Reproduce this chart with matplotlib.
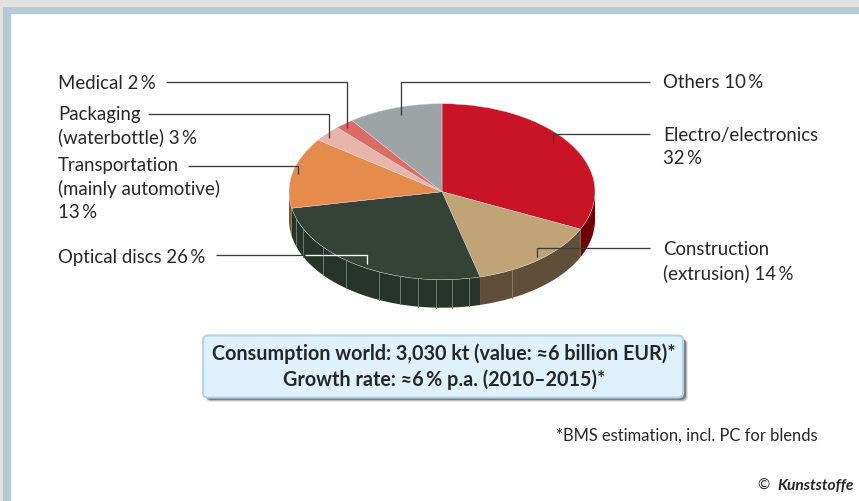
import numpy as np
import matplotlib
matplotlib.use("Agg")
import matplotlib.pyplot as plt
from matplotlib.patches import Rectangle, FancyBboxPatch, Polygon

plt.rcParams["font.family"] = ["Lato", "DejaVu Sans"]

# market shares, clockwise from 12 o'clock
segments = ["Electro/electronics", "Construction", "Optical discs",
            "Transportation", "Packaging", "Medical", "Others"]
shares = [32, 14, 26, 13, 3, 2, 10]
top_colors = ["#c81426", "#c0a377", "#354237", "#e58b4c", "#e8b5ab", "#dc6b66", "#9ea3a6"]
wall_colors = ["#6c0003", "#5f4f38", "#27342b", "#7a5a30", "#b09088", "#a05050", "#70747a"]

# thin seams on the rim of the disc, px from the centre
seam_px = [-146, -138.7, -118.7, -95.7, -62.7, -41.7, -23.7, -6.3, 10.3, 27.3, 69.7]
seam_colors = ["#6f7a70"] * 10 + ["#8a7c62"]

W, H = 859, 501
CX, CY, RX, RY, DEPTH = 442, 191.7, 153, 88, 28

fig = plt.figure(figsize=(W / 100, H / 100), dpi=100, facecolor="white")

# page frame + labels live in pixel coords
bg = fig.add_axes([0, 0, 1, 1], zorder=0)
bg.set_xlim(0, W)
bg.set_ylim(H, 0)
bg.axis("off")
bg.add_patch(Rectangle((0, 0), W, H, fc="#e1e1e1", ec="none"))
bg.add_patch(Rectangle((3, 7), W, H, fc="#b8cbd4", ec="none"))
bg.add_patch(Rectangle((11, 14), W, H, fc="#eef4f6", ec="none"))
bg.add_patch(Rectangle((12, 15), W, H, fc="white", ec="none"))

# unit circle axes, squashed so that the pie turns into an ellipse
ax = fig.add_axes([0, 0, 1, 1], zorder=1)
ax.pie(shares, colors=top_colors, startangle=90, counterclock=False, radius=1,
       wedgeprops={"linewidth": 0.3, "edgecolor": "#d8d8d8", "zorder": 5})
ax.set_aspect("auto")
ax.set_xlim((0 - CX) / RX, (W - CX) / RX)
ax.set_ylim((CY - H) / RY, CY / RY)
ax.axis("off")

# rim of the disc, only the front half shows
d = DEPTH / RY
edges = 90 - np.cumsum([0] + shares) * 3.6
for i in range(len(shares)):
    hi, lo = edges[i], edges[i + 1]
    # move into the -180..0 range of the front half
    a = max(lo, -180)
    b = min(hi, 0)
    if lo < -180:
        a2 = max(lo + 360, 180)
        b2 = min(hi + 360, 360)
        if b2 > a2:
            a, b = a2 - 360, b2 - 360
    if b <= a:
        continue
    t = np.radians(np.linspace(a, b, 60))
    xs = np.cos(t)
    ys = np.sin(t)
    pts = np.column_stack([np.r_[xs, xs[::-1]], np.r_[ys, ys[::-1] - d]])
    ax.add_patch(Polygon(pts, fc=wall_colors[i], ec="none", zorder=2))

for px, col in zip(seam_px, seam_colors):
    x = px / RX
    y = -np.sqrt(1 - x * x)
    ax.plot([x, x], [y, y - d], color=col, lw=0.7, zorder=3)

# overlay for leaders and text
fg = fig.add_axes([0, 0, 1, 1], zorder=2)
fg.set_xlim(0, W)
fg.set_ylim(H, 0)
fg.axis("off")
fg.patch.set_alpha(0)

LINE = "#3c3c3c"
leaders = [
    ([166, 347, 347], [82, 82, 128]),
    ([148, 329, 329], [114, 114, 138]),
    ([188, 298, 298], [166, 166, 174]),
    ([216, 305], [255, 255]),
    ([400.7, 400.7, 650], [115, 82, 82]),
    ([552.5, 552.5, 650], [143, 134, 134]),
    ([537, 537, 650], [257, 248, 248]),
]
for xs, ys in leaders:
    fg.plot(xs, ys, color=LINE, lw=0.95, solid_joinstyle="miter", solid_capstyle="butt")
fg.plot([305, 367, 367], [255, 255, 264], color="white", lw=0.95,
        solid_joinstyle="miter", solid_capstyle="butt")

TXT = "#262626"
labels = [
    (58, 83, "Medical 2\u2009%"),
    (58, 114, "Packaging"),
    (58, 137, "(waterbottle) 3\u2009%"),
    (58, 165, "Transportation"),
    (58, 189, "(mainly automotive)"),
    (58, 213, "13\u2009%"),
    (58, 257, "Optical discs 26\u2009%"),
    (663, 82, "Others 10\u2009%"),
    (663, 135, "Electro/electronics"),
    (663, 159, "32\u2009%"),
    (663, 249, "Construction"),
    (663, 273, "(extrusion) 14\u2009%"),
]
for x, y, s in labels:
    fg.text(x, y, s, fontsize=13.4, color=TXT, va="center", ha="left")

# info box with a soft shadow below and to the right
for off, alpha in [(2, 0.15), (1, 0.3), (0, 0.6)]:
    fg.add_patch(FancyBboxPatch((206, 339), 480 + off, 61 + off,
                                boxstyle="round,pad=0,rounding_size=5",
                                fc="#55585c", ec="none", alpha=alpha))
fg.add_patch(FancyBboxPatch((203, 335.5), 480, 62,
                            boxstyle="round,pad=0,rounding_size=5",
                            fc="#dff2fb", ec="#b2d3ec", lw=1.5))
fg.text(444, 354, "Consumption world: 3,030 kt (value: \u22486 billion EUR)*",
        fontsize=14.2, fontweight="bold", color=TXT, ha="center", va="center")
fg.text(444, 380, "Growth rate: \u22486\u2009% p.a. (2010\u20132015)*",
        fontsize=14.2, fontweight="bold", color=TXT, ha="center", va="center")

fg.text(556, 436, "*BMS estimation, incl. PC for blends", fontsize=11.9, color=TXT,
        ha="left", va="center")
fg.text(757, 486, "\u00a9", fontsize=10.5, color=TXT, ha="left", va="center")
fg.text(777, 486, "Kunststoffe", fontsize=11.2, color=TXT, fontweight="bold",
        fontstyle="italic", ha="left", va="center")

fig.savefig("out.png", dpi=100)
